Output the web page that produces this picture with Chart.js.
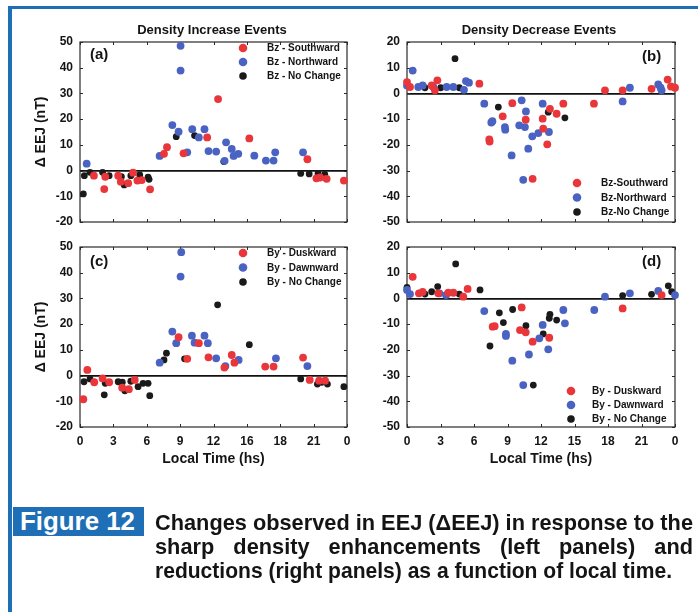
<!DOCTYPE html>
<html><head><meta charset="utf-8">
<script src="https://cdn.jsdelivr.net/npm/chart.js@4.4.1/dist/chart.umd.min.js"></script>
<style>
html,body{margin:0;padding:0;background:#fff;}
#page{position:relative;width:698px;height:612px;overflow:hidden;background:#fff;font-family:'Liberation Sans',Arial,sans-serif;}
#page canvas{position:absolute;left:0;top:0;}
.frame-top{position:absolute;left:8px;top:6px;width:690px;height:3px;background:#1f6fb6;}
.frame-left{position:absolute;left:8px;top:6px;width:4px;height:606px;background:#1f6fb6;}
#figlab{position:absolute;left:13px;top:507px;width:131px;height:29px;background:#1f6fb6;}
#figtxt{position:absolute;left:20px;top:507px;color:#fff;font-weight:bold;font-size:25px;line-height:29px;white-space:nowrap;transform-origin:0 0;}
.cap{position:absolute;left:155px;font-weight:bold;font-size:21.5px;line-height:24px;white-space:nowrap;color:#141414;transform-origin:0 0;}
</style>
</head><body>
<div id="page">
  <div class="frame-top"></div>
  <div class="frame-left"></div>
  <canvas id="ca" width="698" height="612"></canvas>
  <canvas id="cb" width="698" height="612"></canvas>
  <canvas id="cc" width="698" height="612"></canvas>
  <canvas id="cd" width="698" height="612"></canvas>
  <div id="figlab"></div>
  <div id="figtxt">Figure 12</div>
  <div class="cap" id="cap1" style="top:511px">Changes observed in EEJ (ΔEEJ) in response to the</div>
  <div class="cap" id="cap2" style="top:535px">sharp density enhancements (left panels) and</div>
  <div class="cap" id="cap3" style="top:559px">reductions (right panels) as a function of local time.</div>
</div>
<script>
// ---------------- DATA ----------------
const xTickValues = [0, 3, 6, 9, 12, 15, 18, 21, 24];
const xTickLabelsC = ['0', '3', '6', '9', '12', '16', '18', '21', '0'];
const xTickLabelsD = ['0', '3', '6', '9', '12', '15', '18', '21', '0'];

const titleLeft = 'Density Increase Events';
const titleRight = 'Density Decrease Events';
const yTitle = 'Δ EEJ (nT)';
const xTitle = 'Local Time (hs)';

const labelsA = ['Bz - Southward', 'Bz - Northward', 'Bz - No Change'];
const labelsB = ['Bz-Southward', 'Bz-Northward', 'Bz-No Change'];
const labelsC = ['By - Duskward', 'By - Dawnward', 'By - No Change'];
const labelsD = ['By - Duskward', 'By - Dawnward', 'By - No Change'];

// Panel (a): density increase, Bz classification  [local time, ΔEEJ]
const aSouthward = [[1.25,-2.0],[2.18,-7.2],[2.27,-2.4],[3.43,-2.0],[3.67,-4.3],[4.33,-4.9],[4.77,-0.8],[5.16,-3.9],[5.55,-3.7],[6.3,-7.3],[7.55,6.5],[7.82,9.1],[9.31,6.7],[11.43,12.9],[12.41,27.8],[15.22,12.5],[20.44,4.4],[21.25,-3.0],[21.58,-2.7],[22.17,-3.2],[23.72,-3.9]];
const aNorthward = [[0.6,2.7],[7.16,5.7],[8.3,17.7],[8.86,15.1],[9.04,48.5],[9.04,38.9],[9.64,7.1],[10.09,16.1],[10.68,12.9],[11.19,16.1],[11.55,7.6],[12.24,7.4],[13.13,11.0],[13.0,3.8],[13.64,8.4],[13.81,5.7],[14.23,6.5],[15.67,5.8],[16.71,3.9],[17.4,3.9],[17.55,7.1],[20.05,7.1]];
const aNoChange = [[0.3,-9.1],[0.39,-2.0],[0.9,-0.7],[2.03,-0.7],[2.62,-2.0],[3.72,-2.4],[3.97,-5.6],[4.57,-2.0],[5.37,-1.7],[6.12,-2.6],[6.21,-3.4],[8.65,13.2],[10.3,13.6],[12.92,3.5],[19.84,-1.1],[20.6,-1.3],[21.4,-1.1],[22.0,-1.5]];

// Panel (b): density decrease, Bz classification
const bSouthward = [[0.0,4.4],[0.27,2.5],[2.21,3.1],[2.5,1.2],[2.72,5.1],[6.48,3.8],[7.37,-17.9],[7.4,-18.7],[8.57,-8.9],[9.43,-3.8],[10.63,-10.2],[11.25,-33.2],[12.15,-9.8],[12.2,-13.7],[12.56,-19.8],[12.8,-6.0],[13.4,-7.9],[14.0,-4.0],[16.74,-4.0],[17.73,1.2],[19.31,1.2],[21.9,1.8],[23.34,5.4],[23.64,2.7],[24.0,2.2]];
const bNorthward = [[0.0,3.1],[0.51,8.9],[1.01,2.5],[1.4,3.1],[2.36,2.5],[3.55,2.5],[4.15,2.5],[5.1,1.4],[5.28,4.8],[5.55,4.2],[6.92,-4.0],[7.55,-11.3],[7.65,-10.8],[8.77,-13.1],[8.8,-14.1],[9.37,-24.1],[10.05,-12.4],[10.27,-2.7],[10.41,-33.6],[10.56,-13.1],[10.65,-7.0],[10.86,-21.5],[11.22,-16.7],[11.76,-15.4],[12.15,-4.0],[12.71,-15.0],[19.31,-3.1],[19.96,2.2],[22.5,3.5],[22.71,2.2],[22.8,1.2]];
const bNoChange = [[1.61,2.2],[3.02,2.2],[4.3,13.5],[4.68,2.2],[8.18,-5.3],[12.65,-7.3],[14.14,-9.5]];

// Panel (c): density increase, By classification
const cDuskward = [[0.3,-9.2],[0.66,2.2],[1.28,-2.6],[2.03,-1.1],[2.62,-2.6],[3.79,-4.7],[4.39,-5.3],[4.92,-1.7],[8.86,14.9],[9.64,6.5],[10.68,12.6],[11.55,7.1],[12.98,3.1],[13.64,8.0],[13.88,5.0],[16.65,3.5],[17.4,3.5],[20.05,7.0],[20.65,-1.7],[21.49,-2.0],[22.03,-2.0]];
const cDawnward = [[7.16,5.0],[8.3,17.1],[8.65,12.6],[9.04,38.5],[9.1,48.0],[10.06,15.5],[10.3,12.8],[11.19,15.5],[11.49,12.6],[12.24,6.7],[13.07,3.7],[14.26,6.1],[17.61,6.7],[20.44,3.7]];
const cNoChange = [[0.36,-2.4],[0.9,-1.3],[2.18,-7.5],[2.27,-3.0],[3.43,-2.4],[3.8,-2.6],[4.03,-5.9],[4.57,-2.2],[5.22,-4.3],[5.67,-3.0],[6.12,-3.0],[6.27,-7.8],[7.55,6.1],[7.77,8.7],[9.4,6.5],[12.37,27.5],[15.22,12.0],[19.84,-1.3],[21.34,-3.3],[21.73,-2.6],[22.24,-3.3],[23.72,-4.3]];

// Panel (d): density decrease, By classification
const dDuskward = [[0.51,8.4],[1.07,2.0],[1.4,2.5],[2.8,2.0],[3.7,2.2],[4.15,2.2],[5.04,0.7],[5.43,3.7],[7.67,-11.0],[7.85,-10.8],[10.12,-12.3],[10.27,-3.5],[10.63,-13.2],[11.25,-16.8],[12.74,-15.3],[19.31,-3.9],[22.8,1.3]];
const dDawnward = [[0.0,3.3],[0.27,1.7],[2.9,2.0],[3.5,1.3],[6.92,-4.9],[8.86,-14.6],[8.86,-13.8],[9.43,-24.2],[10.41,-33.7],[10.92,-21.8],[11.85,-15.5],[12.15,-10.3],[12.65,-19.8],[14.0,-4.5],[14.14,-9.7],[16.77,-4.5],[17.73,0.7],[19.96,2.0],[22.5,2.9],[24.0,1.3]];
const dNoChange = [[0.0,4.3],[1.61,1.7],[2.21,2.6],[2.75,4.6],[4.36,13.4],[4.68,1.7],[6.54,3.3],[7.43,-18.5],[8.27,-5.6],[8.63,-9.4],[9.46,-4.3],[10.65,-10.6],[11.31,-33.7],[12.2,-13.8],[12.74,-7.7],[12.8,-6.2],[13.4,-8.4],[19.31,1.1],[21.9,1.6],[23.4,4.9],[23.7,2.6]];

// ---------------- STYLE ----------------
const COLORS = ['#e8363a', '#4a63c2', '#1a1a1a'];
const RADII = [3.9, 3.9, 3.4];
const FONT = "'Liberation Sans', Arial, sans-serif";
Chart.defaults.font.family = FONT;
Chart.defaults.font.weight = 'bold';
Chart.defaults.color = '#141414';

const decor = {
  id: 'decor',
  beforeDatasetsDraw(chart, args, o) {
    const ctx = chart.ctx, a = chart.chartArea;
    const xs = chart.scales.x, ys = chart.scales.y;
    ctx.save();
    ctx.strokeStyle = '#2a2a2a';
    ctx.lineWidth = 1.2;
    ctx.strokeRect(a.left, a.top, a.right - a.left, a.bottom - a.top);
    ctx.lineWidth = 1;
    ctx.beginPath();
    xs.ticks.forEach(t => {
      const px = Math.round(xs.getPixelForValue(t.value)) + 0.5;
      ctx.moveTo(px, a.bottom); ctx.lineTo(px, a.bottom - 3);
      ctx.moveTo(px, a.top); ctx.lineTo(px, a.top + 3);
    });
    ys.ticks.forEach(t => {
      const py = Math.round(ys.getPixelForValue(t.value)) + 0.5;
      ctx.moveTo(a.left, py); ctx.lineTo(a.left + 3, py);
      ctx.moveTo(a.right, py); ctx.lineTo(a.right - 3, py);
    });
    ctx.stroke();
    ctx.restore();
  },
  afterDraw(chart, args, o) {
    const ctx = chart.ctx;
    ctx.save();
    ctx.fillStyle = '#141414';
    ctx.textBaseline = 'middle';
    if (o.title) {
      ctx.font = 'bold 13px ' + FONT;
      ctx.textAlign = 'center';
      ctx.fillText(o.title, o.titleX, o.titleY);
    }
    ctx.font = 'bold 15px ' + FONT;
    ctx.textAlign = 'left';
    ctx.fillText(o.panel, o.panelX, o.panelY);
    ctx.font = 'bold 10px ' + FONT;
    chart.data.datasets.forEach((ds, i) => {
      const y = o.legY + i * o.legDy;
      ctx.fillStyle = ds.backgroundColor;
      ctx.beginPath();
      ctx.arc(o.legMX, y, ds.pointRadius + 0.4, 0, Math.PI * 2);
      ctx.fill();
      ctx.fillStyle = '#141414';
      ctx.fillText(ds.label, o.legTX, y + 0.5);
    });
    ctx.restore();
  }
};

function makePanel(id, series, labels, p) {
  const datasets = series.map((s, i) => ({
    label: labels[i],
    data: s.map(pt => ({x: pt[0], y: pt[1]})),
    backgroundColor: COLORS[i],
    borderColor: COLORS[i],
    pointRadius: RADII[i],
    pointBorderWidth: 0,
    pointHoverRadius: RADII[i],
    clip: false
  }));
  new Chart(document.getElementById(id), {
    type: 'scatter',
    data: {datasets},
    plugins: [decor],
    options: {
      responsive: false, animation: false, devicePixelRatio: 1,
      events: [],
      layout: {padding: {left: p.l - p.yW, top: p.t, right: 698 - p.r, bottom: 612 - p.b - p.xH}},
      plugins: {
        legend: {display: false}, tooltip: {enabled: false},
        decor: p.decor
      },
      scales: {
        x: {
          type: 'linear', min: 0, max: 24,
          afterBuildTicks: s => { s.ticks = xTickValues.map(v => ({value: v})); },
          ticks: {display: !!p.xLabels, callback: (v, i) => p.xLabels ? p.xLabels[i] : '', padding: 7,
                  font: {size: 12, weight: 'bold'}, color: '#141414', maxRotation: 0, autoSkip: false},
          grid: {display: false, drawTicks: false},
          border: {display: false},
          title: {display: !!p.xLabels, text: xTitle, font: {size: 14, weight: 'bold'}, color: '#141414', padding: {top: 4, bottom: 4}},
          afterFit: s => { s.height = p.xH; }
        },
        y: {
          min: p.ymin, max: p.ymax,
          afterBuildTicks: s => { const t = []; for (let v = p.ymin; v <= p.ymax; v += 10) t.push({value: v}); s.ticks = t; },
          ticks: {padding: 7, font: {size: 12, weight: 'bold'}, color: '#141414'},
          grid: {drawTicks: false, color: c => (c.tick && c.tick.value === 0) ? '#111' : 'rgba(0,0,0,0)', lineWidth: 1.8},
          border: {display: false},
          title: {display: !!p.yTitle, text: yTitle, font: {size: 14, weight: 'bold'}, color: '#141414', padding: {top: 4, bottom: 4}},
          afterFit: s => { s.width = p.yW; }
        }
      }
    }
  });
}

makePanel('ca', [aSouthward, aNorthward, aNoChange], labelsA, {
  l: 80, t: 42, r: 347, b: 222, yW: 51, xH: 0, ymin: -20, ymax: 50, yTitle: true, xLabels: null,
  decor: {title: titleLeft, titleX: 212, titleY: 30, panel: '(a)', panelX: 90, panelY: 55,
          legMX: 243, legY: 48, legDy: 14, legTX: 267}
});
makePanel('cb', [bSouthward, bNorthward, bNoChange], labelsB, {
  l: 407, t: 42, r: 675, b: 222, yW: 40, xH: 0, ymin: -50, ymax: 20, yTitle: false, xLabels: null,
  decor: {title: titleRight, titleX: 539, titleY: 30, panel: '(b)', panelX: 642, panelY: 57,
          legMX: 577, legY: 183, legDy: 14.5, legTX: 601}
});
makePanel('cc', [cDuskward, cDawnward, cNoChange], labelsC, {
  l: 80, t: 247, r: 347, b: 427, yW: 51, xH: 45, ymin: -20, ymax: 50, yTitle: true, xLabels: xTickLabelsC,
  decor: {title: null, panel: '(c)', panelX: 90, panelY: 262,
          legMX: 243, legY: 253, legDy: 14.5, legTX: 267}
});
makePanel('cd', [dDuskward, dDawnward, dNoChange], labelsD, {
  l: 407, t: 247, r: 675, b: 427, yW: 40, xH: 45, ymin: -50, ymax: 20, yTitle: false, xLabels: xTickLabelsD,
  decor: {title: null, panel: '(d)', panelX: 642, panelY: 262,
          legMX: 571, legY: 391, legDy: 14, legTX: 592}
});

// ---------------- caption fitting ----------------
function natW(el) { el.style.transform = 'none'; return el.getBoundingClientRect().width; }
const fig = document.getElementById('figtxt');
fig.style.transform = 'scaleX(' + (115 / natW(fig)) + ')';
const c1 = document.getElementById('cap1'), c2 = document.getElementById('cap2'), c3 = document.getElementById('cap3');
const f1 = 538 / natW(c1);
c1.style.transform = 'scaleX(' + f1 + ')';
const w2 = natW(c2);
const spaces = (c2.textContent.match(/ /g) || []).length;
c2.style.wordSpacing = ((538 / f1 - w2) / spaces) + 'px';
c2.style.transform = 'scaleX(' + f1 + ')';
const f3 = 517 / natW(c3);
c3.style.transform = 'scaleX(' + f3 + ')';
</script>
</body></html>
